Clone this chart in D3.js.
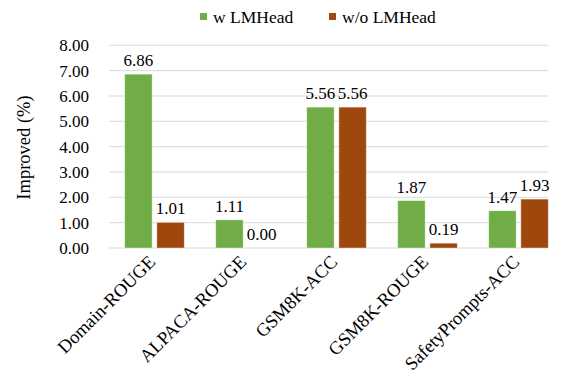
<!DOCTYPE html>
<html>
<head>
<meta charset="utf-8">
<script src="https://cdn.jsdelivr.net/npm/d3@7"></script>
<style>
    body { margin: 0; background: #fff; }
    text { font-family: "Liberation Serif", "Times New Roman", serif; fill: #000; }
</style>
</head>
<body>
<div id="chart"></div>
<script>
var categories = ["Domain-ROUGE", "ALPACA-ROUGE", "GSM8K-ACC", "GSM8K-ROUGE", "SafetyPrompts-ACC"];
var seriesNames = ["w LMHead", "w/o LMHead"];
var withHead = [6.86, 1.11, 5.56, 1.87, 1.47];
var withoutHead = [1.01, 0.00, 5.56, 0.19, 1.93];
var yTicks = [0, 1, 2, 3, 4, 5, 6, 7, 8];
var colors = ["#70ad47", "#9e480e"];

(function() {
    var width = 562, height = 371;
    var left = 109, right = 548, top = 45.3, bottom = 248;

    var svg = d3.select("#chart")
        .append("svg")
        .attr("width", width)
        .attr("height", height);

    var y = d3.scaleLinear().domain([0, 8]).range([bottom, top]);
    // the plot runs past the right edge of the picture, so the band range goes to 564
    var x = d3.scaleBand().domain(categories).range([left, 564]);
    var x1 = d3.scaleBand().domain(seriesNames).range([0, x.bandwidth()]).paddingInner(0.147).paddingOuter(0.49);

    // gridlines
    svg.append("g")
        .selectAll("line")
        .data(yTicks)
        .enter().append("line")
        .attr("x1", left).attr("x2", right)
        .attr("y1", d => y(d)).attr("y2", d => y(d))
        .attr("stroke", "#d9d9d9")
        .attr("stroke-width", 1);

    // y tick labels
    svg.append("g")
        .selectAll("text")
        .data(yTicks)
        .enter().append("text")
        .attr("x", 89)
        .attr("y", d => y(d))
        .attr("dy", "0.35em")
        .attr("text-anchor", "end")
        .style("font-size", "17px")
        .text(d => d.toFixed(2));

    svg.append("text")
        .attr("transform", "translate(30," + 147.5 + ") rotate(-90)")
        .attr("text-anchor", "middle")
        .style("font-size", "18.5px")
        .text("Improved (%)");

    var series = [withHead, withoutHead];
    series.forEach(function(vals, s) {
        var g = svg.append("g");
        g.selectAll("rect")
            .data(vals)
            .enter().append("rect")
            .attr("x", (d, i) => x(categories[i]) + x1(seriesNames[s]))
            .attr("y", d => y(d))
            .attr("width", x1.bandwidth())
            .attr("height", d => y(0) - y(d))
            .attr("fill", colors[s])
            .attr("stroke", d => d > 0 ? "#fff" : "none")
            .attr("stroke-opacity", 0.5)
            .attr("stroke-width", 0.75);
        g.selectAll("text")
            .data(vals)
            .enter().append("text")
            .attr("x", (d, i) => x(categories[i]) + x1(seriesNames[s]) + x1.bandwidth() / 2)
            .attr("y", d => y(d) - 8)
            .attr("text-anchor", "middle")
            .style("font-size", "17px")
            .text(d => d.toFixed(2));
    });

    // x labels
    svg.append("g")
        .selectAll("text")
        .data(categories)
        .enter().append("text")
        .attr("transform", d => "translate(" + (x(d) + x.bandwidth() / 2 + 2) + "," + (bottom + 15) + ") rotate(-45)")
        .attr("text-anchor", "end")
        .style("font-size", "18.5px")
        .text(d => d);

    // legend
    var legendX = [200, 329];
    seriesNames.forEach(function(name, s) {
        svg.append("rect")
            .attr("x", legendX[s]).attr("y", 13)
            .attr("width", 7).attr("height", 7)
            .attr("fill", colors[s]);
        svg.append("text")
            .attr("x", legendX[s] + 13).attr("y", 22.7)
            .style("font-size", "17.5px")
            .text(name);
    });
})();
</script>
</body>
</html>
